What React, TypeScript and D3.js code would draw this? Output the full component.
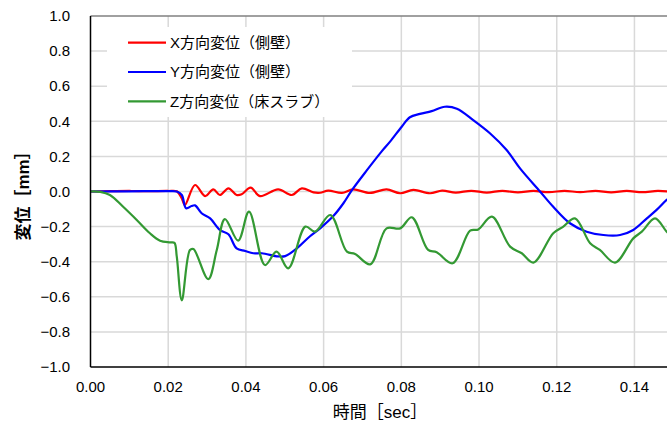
import React from "react";
import * as d3 from "d3";

const xTicks = [0, 0.02, 0.04, 0.06, 0.08, 0.1, 0.12, 0.14];
const yTicks = [1.0, 0.8, 0.6, 0.4, 0.2, 0.0, -0.2, -0.4, -0.6, -0.8, -1.0];

const seriesNames = ["X方向変位（側壁）", "Y方向変位（側壁）", "Z方向変位（床スラブ）"];
const seriesColors = ["#ff0000", "#0000ff", "#339933"];

const xData: [number, number][] = [
  [0, 0], [0.005, 0.002], [0.01, 0.003], [0.015, 0.002], [0.02, 0.003], [0.0222, 0.001],
  [0.0235, -0.039], [0.0243, -0.077], [0.0269, 0.037], [0.0295, -0.026], [0.0316, 0.012],
  [0.0333, -0.02], [0.0355, 0.018], [0.0376, -0.02], [0.0389, -0.016], [0.0412, 0.022],
  [0.0436, -0.026], [0.0483, 0.012], [0.0518, -0.02], [0.0544, 0.018], [0.0574, -0.005],
  [0.0591, -0.007], [0.0612, 0.005], [0.0647, -0.008], [0.0676, 0.012], [0.0719, -0.008],
  [0.0762, 0.012], [0.0797, -0.01], [0.0831, 0.009], [0.0874, -0.01], [0.0905, 0.005],
  [0.094, -0.006], [0.098, 0.004], [0.102, -0.006], [0.106, 0.004], [0.11, -0.005],
  [0.114, 0.003], [0.118, -0.004], [0.122, 0.004], [0.126, -0.004], [0.13, 0.004],
  [0.134, -0.005], [0.138, 0.003], [0.142, -0.004], [0.146, 0.003], [0.15, -0.002],
];

const yData: [number, number][] = [
  [0, 0], [0.01, 0.001], [0.02, 0.002], [0.0222, 0], [0.0235, -0.02], [0.0246, -0.096],
  [0.026, -0.083], [0.0269, -0.079], [0.0286, -0.124], [0.0308, -0.153], [0.0333, -0.219],
  [0.0355, -0.244], [0.0376, -0.324], [0.0398, -0.339], [0.0419, -0.352], [0.0441, -0.352],
  [0.0483, -0.37], [0.0501, -0.368], [0.0531, -0.324], [0.0565, -0.255], [0.0591, -0.21],
  [0.0625, -0.14], [0.0651, -0.067], [0.0672, 0.005], [0.0711, 0.12], [0.075, 0.23],
  [0.0771, 0.284], [0.0801, 0.369], [0.0822, 0.423], [0.0848, 0.442], [0.0878, 0.458],
  [0.0912, 0.483], [0.0943, 0.472], [0.0985, 0.407], [0.1028, 0.332], [0.1071, 0.236],
  [0.1106, 0.13], [0.1157, 0], [0.1191, -0.087], [0.1234, -0.181], [0.1277, -0.229],
  [0.132, -0.248], [0.1363, -0.248], [0.1397, -0.219], [0.1432, -0.153], [0.1457, -0.105],
  [0.1483, -0.048], [0.15, -0.02],
];

const zData: [number, number][] = [
  [0, 0], [0.0025, -0.002], [0.005, -0.02], [0.0084, -0.087], [0.0119, -0.162],
  [0.0153, -0.238], [0.0179, -0.28], [0.0205, -0.29], [0.0216, -0.293], [0.0222, -0.37],
  [0.0235, -0.62], [0.0256, -0.333], [0.0265, -0.328], [0.0303, -0.499], [0.0325, -0.333],
  [0.0346, -0.157], [0.038, -0.28], [0.0408, -0.115], [0.0449, -0.419], [0.0479, -0.343],
  [0.0509, -0.438], [0.0553, -0.2], [0.0578, -0.229], [0.0617, -0.134], [0.066, -0.343],
  [0.0681, -0.356], [0.072, -0.415], [0.0762, -0.21], [0.0797, -0.21], [0.0827, -0.147],
  [0.0869, -0.333], [0.0891, -0.346], [0.0932, -0.409], [0.0977, -0.223], [0.0998, -0.216],
  [0.1033, -0.143], [0.108, -0.314], [0.111, -0.352], [0.114, -0.405], [0.1191, -0.238],
  [0.1217, -0.2], [0.1247, -0.153], [0.1286, -0.295], [0.1311, -0.333], [0.135, -0.405],
  [0.1397, -0.267], [0.1419, -0.229], [0.1453, -0.153], [0.1483, -0.229], [0.15, -0.26],
];

const allSeries = [xData, yData, zData];

const W = 667;
const H = 428;
const FONT = "'Liberation Sans', Arial, 'Noto Sans CJK JP', sans-serif";

export default function App() {
  const x = d3.scaleLinear().domain([0, 0.15]).range([90.5, 673.3]);
  const y = d3.scaleLinear().domain([-1, 1]).range([367, 16]);
  const line = d3
    .line<[number, number]>()
    .x((d) => x(d[0]))
    .y((d) => y(d[1]))
    .curve(d3.curveCatmullRom.alpha(0.5));

  const left = x(0);
  const right = W;
  const top = y(1);
  const bottom = y(-1);

  return (
    <svg
      width={W}
      height={H}
      style={{ position: "absolute", left: 0, top: 0, background: "#fff" }}
      fontFamily={FONT}
    >
      <rect x={0} y={0} width={W} height={H} fill="#fff" />
      {xTicks.slice(1).map((t) => (
        <line key={"gx" + t} x1={x(t)} x2={x(t)} y1={top} y2={bottom} stroke="#d9d9d9" strokeWidth={1.5} />
      ))}
      {yTicks.slice(1, -1).map((t) => (
        <line key={"gy" + t} x1={left} x2={right} y1={y(t)} y2={y(t)} stroke="#d9d9d9" strokeWidth={1.5} />
      ))}
      <line x1={left} x2={right} y1={top} y2={top} stroke="#808080" strokeWidth={1.5} />
      <rect x={107} y={27} width={245} height={90} fill="#fff" />
      {allSeries.map((s, i) => (
        <path key={"s" + i} d={line(s) || ""} fill="none" stroke={seriesColors[i]} strokeWidth={2.2} />
      ))}
      <line x1={left} x2={left} y1={top} y2={bottom} stroke="#000" strokeWidth={1.5} />
      <line x1={left} x2={right} y1={bottom} y2={bottom} stroke="#000" strokeWidth={1.5} />
      {yTicks.map((t) => (
        <text key={"ty" + t} x={70} y={y(t)} dy="0.35em" textAnchor="end" fontSize={15} fill="#000">
          {t < 0 ? "\u2212" + Math.abs(t).toFixed(1) : t.toFixed(1)}
        </text>
      ))}
      {xTicks.map((t) => (
        <text key={"tx" + t} x={x(t)} y={392} textAnchor="middle" fontSize={15} fill="#000">
          {t.toFixed(2)}
        </text>
      ))}
      {seriesNames.map((n, i) => (
        <g key={"lg" + i}>
          <line x1={128} x2={166} y1={42.7 + i * 29.3} y2={42.7 + i * 29.3} stroke={seriesColors[i]} strokeWidth={2.2} />
          <text x={170} y={42.7 + i * 29.3} dy="0.35em" fontSize={15} fill="#000">
            {n}
          </text>
        </g>
      ))}
      <text x={380} y={418} textAnchor="middle" fontSize={17} fill="#000">
        時間［sec］
      </text>
      <text
        transform={`translate(29,191.5) rotate(-90)`}
        textAnchor="middle"
        fontSize={17}
        fontWeight="bold"
        fill="#000"
      >
        変位［mm］
      </text>
    </svg>
  );
}
